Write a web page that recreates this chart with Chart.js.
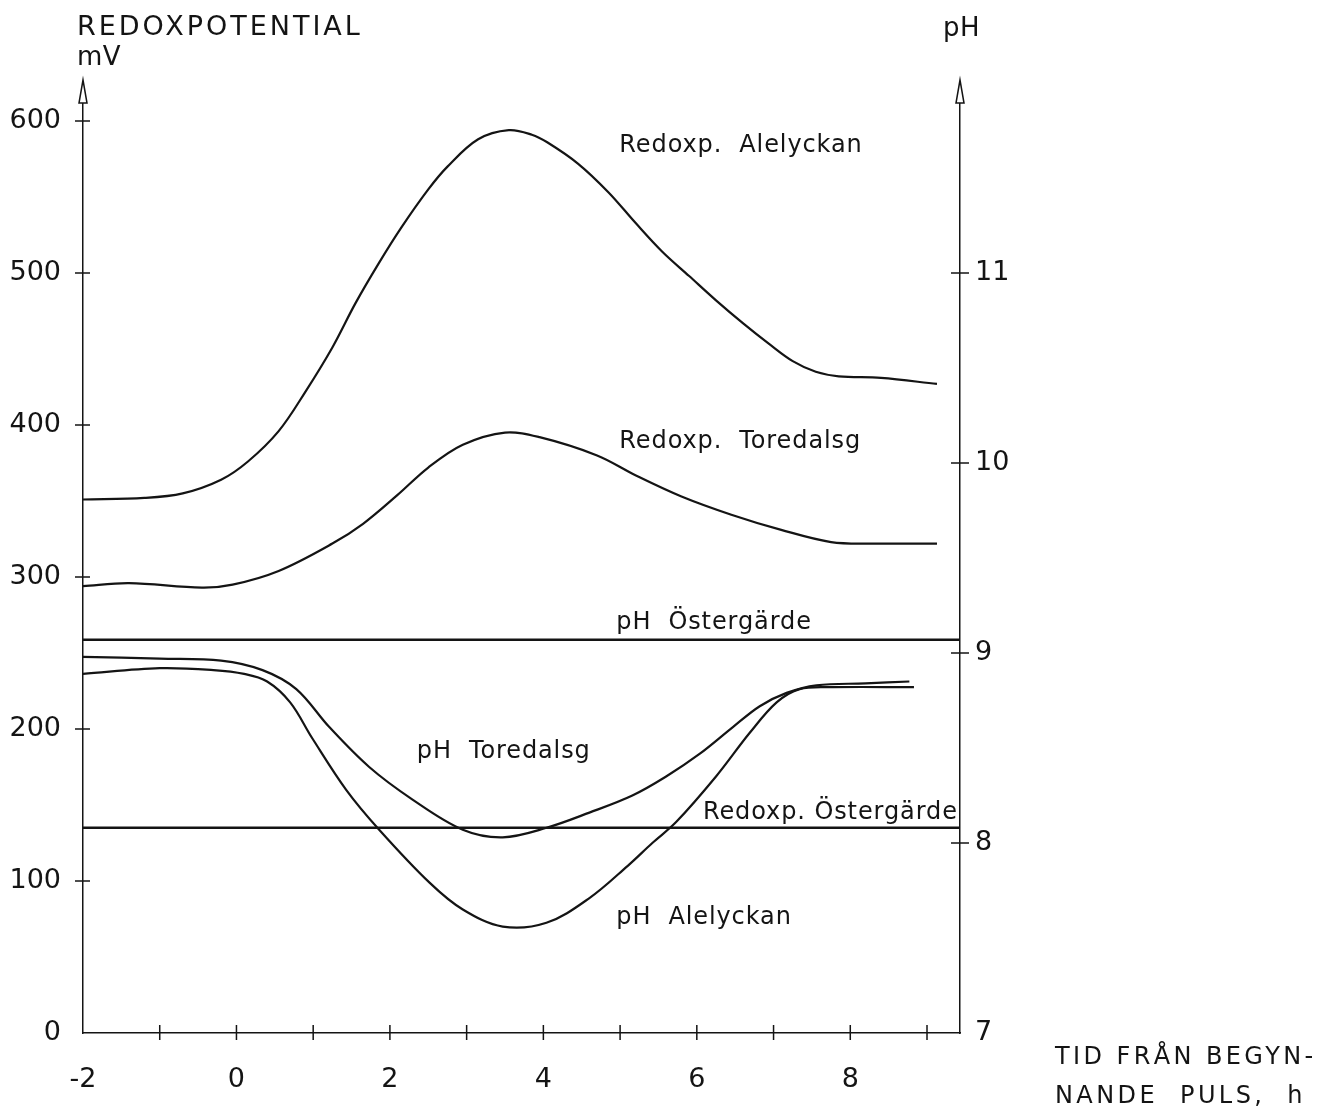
<!DOCTYPE html>
<html>
<head>
<meta charset="utf-8">
<script src="https://cdn.jsdelivr.net/npm/chart.js@4.4.1/dist/chart.umd.min.js"></script>
<style>
  html, body { margin: 0; background: #fff; }
  canvas { display: block; }
</style>
</head>
<body>
<canvas id="chart" width="1326" height="1110"></canvas>
<script>
// Redox potential (mV, left axis) and pH (right axis) against time from pulse start (h)

const INK = '#141414';
const FONT = "'DejaVu Sans', sans-serif";

// tick values
const HOUR_LABELS = [-2, 0, 2, 4, 6, 8];
const HOUR_MARKS = [-1, 0, 1, 2, 3, 4, 5, 6, 7, 8, 9];
const MV_TICKS = [0, 100, 200, 300, 400, 500, 600];
const PH_TICKS = [7, 8, 9, 10, 11];

// Redoxp. Alelyckan
const redoxAleH = [-2, -1.2, -0.7, -0.2, 0.15, 0.55, 0.9, 1.25, 1.55, 1.85, 2.15, 2.5, 2.75, 3.15, 3.55, 3.85, 4.05, 4.45, 4.85, 5.2, 5.55, 5.9, 6.25, 6.6, 6.95, 7.25, 7.55, 7.85, 8.4, 9.13];
const redoxAleMv = [351, 352, 355, 364, 376, 396, 422, 451, 480, 506, 530, 555, 570, 588, 594, 591, 586, 572, 553, 533, 514, 498, 482, 467, 453, 442, 435, 432, 431, 427];

// Redoxp. Toredalsg
const redoxTorH = [-2, -1.4, -0.45, -0.05, 0.55, 1.25, 1.65, 2.1, 2.5, 2.95, 3.5, 3.95, 4.7, 5.2, 5.8, 6.45, 7.1, 7.75, 8.3, 9.13];
const redoxTorMv = [294, 296, 293, 295, 304, 322, 335, 354, 372, 387, 395, 392, 380, 367, 353, 341, 331, 323, 322, 322];

// Redoxp. Östergärde (flat)
const redoxOstH = [-2, 9.43];
const redoxOstMv = [135, 135];

// pH Toredalsg
const phTorH = [-2, -1, -0.2, 0.34, 0.78, 1.21, 1.73, 2.29, 2.95, 3.47, 4.04, 4.6, 5.16, 5.6, 6.04, 6.47, 6.82, 7.17, 7.56, 8.2, 8.77];
const phTor = [8.98, 8.97, 8.96, 8.91, 8.81, 8.61, 8.40, 8.23, 8.07, 8.03, 8.08, 8.16, 8.25, 8.35, 8.47, 8.61, 8.72, 8.79, 8.83, 8.84, 8.85];

// pH Alelyckan
const phAleH = [-2, -1, -0.3, 0.1, 0.4, 0.7, 0.99, 1.43, 1.86, 2.52, 2.95, 3.47, 4.04, 4.6, 5.1, 5.42, 5.73, 6.25, 6.69, 7.04, 7.34, 7.77, 8.83];
const phAle = [8.89, 8.92, 8.91, 8.89, 8.85, 8.74, 8.55, 8.28, 8.07, 7.79, 7.65, 7.56, 7.58, 7.71, 7.88, 8.00, 8.11, 8.35, 8.58, 8.74, 8.81, 8.82, 8.82];

// pH Östergärde (flat)
const phOstH = [-2, 9.43];
const phOst = [9.07, 9.07];

// curve captions: [text, hour, mV at text middle]
const CAPTIONS = [
  ['Redoxp.  Alelyckan', 4.99, 584],
  ['Redoxp.  Toredalsg', 4.99, 389],
  ['pH  Östergärde', 4.95, 270],
  ['pH  Toredalsg', 2.35, 185],
  ['Redoxp. Östergärde', 6.08, 145],
  ['pH  Alelyckan', 4.95, 76],
];

const pts = (xs, ys) => xs.map((x, i) => ({ x, y: ys[i] }));
const line = (xs, ys, axis, width = 2.2) => ({
  data: pts(xs, ys), yAxisID: axis, borderColor: INK, borderWidth: width,
  pointRadius: 0, tension: 0.35, fill: false,
});

function text(ctx, str, x, y, size, spacing = 0, align = 'left') {
  ctx.save();
  ctx.font = `${size}px ${FONT}`;
  ctx.letterSpacing = `${spacing}px`;
  ctx.fillStyle = INK;
  ctx.textAlign = align;
  ctx.textBaseline = 'middle';
  ctx.fillText(str, x, y);
  ctx.restore();
}

function arrow(ctx, x, tip, base) {
  ctx.beginPath();
  ctx.moveTo(x, tip);
  ctx.lineTo(x - 4, base);
  ctx.lineTo(x + 4, base);
  ctx.closePath();
  ctx.fillStyle = '#fff';
  ctx.fill();
  ctx.stroke();
}

// tick crosses, arrow heads and every caption
const decorations = {
  id: 'decorations',
  afterDraw(chart) {
    const { ctx, chartArea: a, scales } = chart;
    const { x, mv, ph } = scales;
    ctx.save();
    ctx.strokeStyle = INK;
    ctx.lineWidth = 1.5;
    ctx.beginPath();
    MV_TICKS.forEach((v) => {
      const y = mv.getPixelForValue(v);
      if (v > 0) { ctx.moveTo(a.left - 8, y); ctx.lineTo(a.left + 7, y); }
    });
    PH_TICKS.forEach((v) => {
      const y = ph.getPixelForValue(v);
      if (v > 7) { ctx.moveTo(a.right - 9, y); ctx.lineTo(a.right + 9, y); }
    });
    HOUR_MARKS.forEach((v) => {
      const px = x.getPixelForValue(v);
      ctx.moveTo(px, a.bottom - 8); ctx.lineTo(px, a.bottom + 7);
    });
    ctx.stroke();
    arrow(ctx, a.left, a.top - 3, a.top + 20);
    arrow(ctx, a.right, a.top - 3, a.top + 20);
    ctx.restore();

    CAPTIONS.forEach(([s, h, v]) => text(ctx, s, x.getPixelForValue(h), mv.getPixelForValue(v), 24, 0.9));

    text(ctx, 'REDOXPOTENTIAL', a.left - 6, 28, 27, 3);
    text(ctx, 'mV', a.left - 6, 58, 26, 0.5);
    text(ctx, 'pH', a.right + 20, 29, 26, 0.5, 'right');
    text(ctx, 'TID FRÅN BEGYN-', 1055, 1058, 24, 3.4);
    text(ctx, 'NANDE  PULS,  h', 1055, 1097, 24, 3.4);
  },
};

const tickFont = { family: FONT, size: 27 };

new Chart(document.getElementById('chart'), {
  type: 'line',
  data: {
    datasets: [
      line(redoxAleH, redoxAleMv, 'mv'),
      line(redoxTorH, redoxTorMv, 'mv'),
      line(redoxOstH, redoxOstMv, 'mv', 2.5),
      line(phTorH, phTor, 'ph'),
      line(phAleH, phAle, 'ph'),
      line(phOstH, phOst, 'ph', 2.5),
    ],
  },
  options: {
    responsive: false,
    animation: false,
    layout: { padding: { top: 83, left: 0, right: 0, bottom: 0 } },
    plugins: { legend: { display: false }, tooltip: { enabled: false } },
    scales: {
      x: {
        type: 'linear', position: 'bottom', min: -2, max: 9.43,
        grid: { display: false },
        border: { color: INK, width: 1.5 },
        afterBuildTicks: (s) => { s.ticks = HOUR_LABELS.map((value) => ({ value })); },
        afterFit: (s) => { s.height = 77; },
        ticks: { color: INK, font: tickFont, padding: 23, autoSkip: false, maxRotation: 0, callback: (v) => String(v) },
      },
      mv: {
        type: 'linear', position: 'left', min: 0, max: 625,
        grid: { display: false },
        border: { color: INK, width: 1.5 },
        afterBuildTicks: (s) => { s.ticks = MV_TICKS.map((value) => ({ value })); },
        afterFit: (s) => { s.width = 83; },
        ticks: { color: INK, font: tickFont, padding: 14, autoSkip: false, callback: (v) => String(v) },
      },
      ph: {
        type: 'linear', position: 'right', min: 7, max: 12,
        grid: { display: false },
        border: { color: INK, width: 1.5 },
        afterBuildTicks: (s) => { s.ticks = PH_TICKS.map((value) => ({ value })); },
        afterFit: (s) => { s.width = 366; },
        ticks: { color: INK, font: tickFont, padding: 7, autoSkip: false, callback: (v) => String(v) },
      },
    },
  },
  plugins: [decorations],
});
</script>
</body>
</html>
